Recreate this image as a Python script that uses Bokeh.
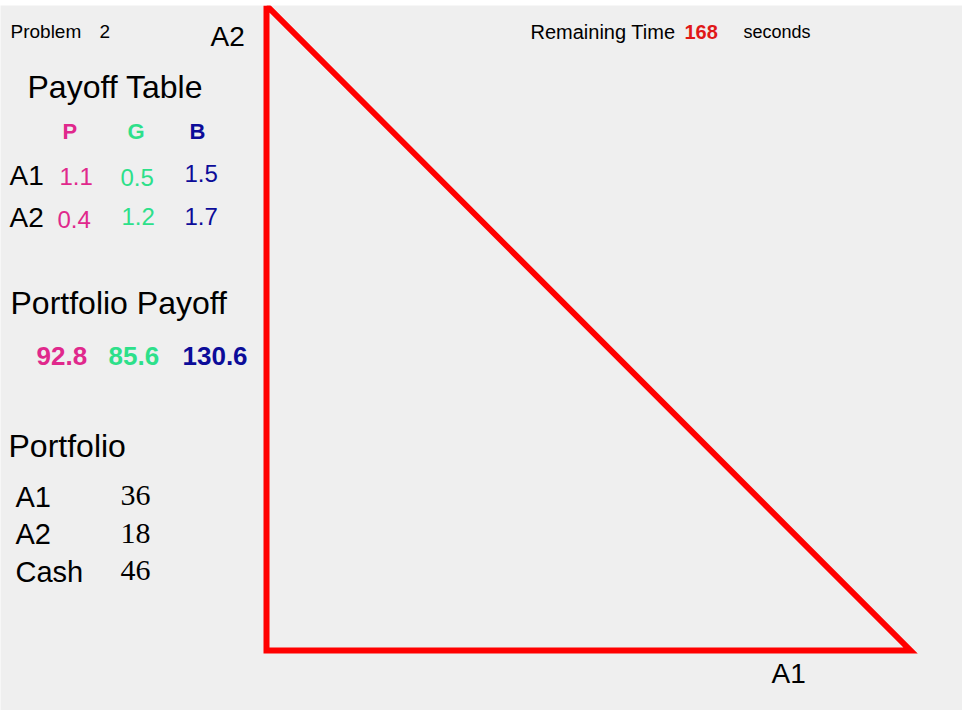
from bokeh.plotting import figure
from bokeh.models import Range1d
from bokeh.core.properties import value
from bokeh.embed import file_html
from bokeh.resources import INLINE

# ---- data ----
problem_no = "2"
remaining_time = "168"
assets = ["A1", "A2"]
states = ["P", "G", "B"]
state_colors = ["#e0288c", "#2de08a", "#0c0c99"]
payoff_a1 = ["1.1", "0.5", "1.5"]
payoff_a2 = ["0.4", "1.2", "1.7"]
portfolio_payoff = ["92.8", "85.6", "130.6"]
portfolio_labels = ["A1", "A2", "Cash"]
portfolio_values = ["36", "18", "46"]
# budget triangle (A1 units, A2 units)
tri_a1 = [0, 0, 100, 0]
tri_a2 = [100, 0, 0, 100]

# ---- layout (page pixels -> data) ----
W, H = 962, 710
TOP = 5
X0_PX, Y0_PX, SCALE_X, SCALE_Y = 274, 658, 6.44, 6.45
PAGE_L, PAGE_T = 8, 8 + TOP


def dx(px):
    return (px - X0_PX) / SCALE_X


def dy(py):
    return (Y0_PX - py) / SCALE_Y


p = figure(width=W, height=H, output_backend="svg", toolbar_location=None,
           x_range=Range1d(dx(PAGE_L), dx(PAGE_L + W)),
           y_range=Range1d(dy(PAGE_T + H - TOP), dy(PAGE_T)),
           min_border_left=0, min_border_right=0, min_border_bottom=0,
           min_border_top=TOP)
p.background_fill_color = "#efefef"
p.border_fill_color = "white"
p.outline_line_color = None
p.xaxis.visible = False
p.yaxis.visible = False
p.grid.visible = False

p.line(tri_a1, tri_a2, line_color="#ff0000", line_width=6, line_join="miter")

SANS = "Liberation Sans"
SERIF = "Liberation Serif"


def txt(x, y, s, size, color="black", style="normal", font=SANS):
    p.text(x=[dx(x)], y=[dy(y)], text=[s], text_font=value(font),
           text_font_size=f"{size}px", text_color=color,
           text_font_style=style, text_baseline="middle", text_align="left")


txt(18, 39, "Problem", 19)
txt(107, 39, problem_no, 19)
txt(218, 43.5, assets[1], 28)
txt(779, 681, assets[0], 28)

txt(538, 39, "Remaining Time", 20)
txt(692, 39, remaining_time, 20, color="#e01818", style="bold")
txt(751, 39, "seconds", 18)

txt(35, 94, "Payoff Table", 32)
hx = [70, 135, 197]
for s, c, x in zip(states, state_colors, hx):
    txt(x, 139, s, 22, color=c, style="bold")

txt(17, 182.5, assets[0], 28)
txt(17, 224.5, assets[1], 28)
r1 = [(67, 184), (128, 184.5), (192, 180.5)]
r2 = [(65, 226.5), (129, 224), (192, 223.5)]
for v, c, (x, y) in zip(payoff_a1, state_colors, r1):
    txt(x, y, v, 24, color=c)
for v, c, (x, y) in zip(payoff_a2, state_colors, r2):
    txt(x, y, v, 24, color=c)

txt(18, 310, "Portfolio Payoff", 32)
px_ = [44, 116, 190]
for v, c, x in zip(portfolio_payoff, state_colors, px_):
    txt(x, 363.5, v, 26, color=c, style="bold")

txt(16, 453.5, "Portfolio", 32)
rows_y = [504, 541.5, 579]
for lab, val, y in zip(portfolio_labels, portfolio_values, rows_y):
    txt(23, y, lab, 29)
    txt(128, y - 1, val, 30, font=SERIF)

open("out.html", "w").write(file_html(p, INLINE))
